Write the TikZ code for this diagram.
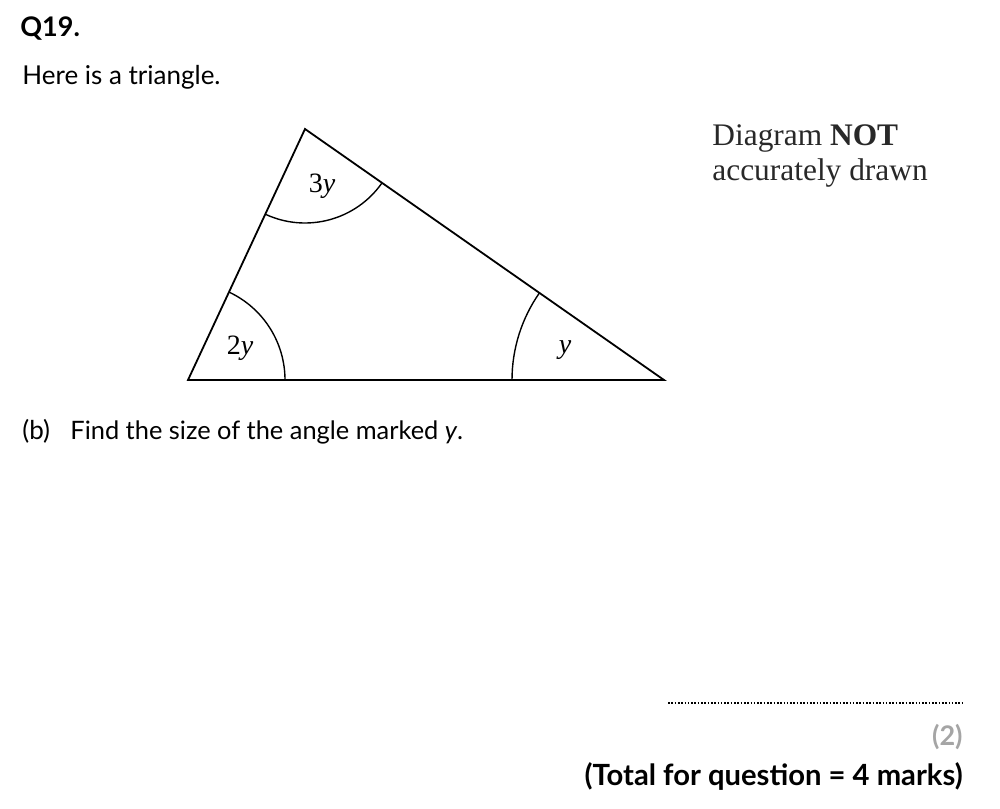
\documentclass[tikz,border=0pt]{standalone}
\usepackage{fontspec}
\setmainfont{Lato}
\newfontfamily\timesfont{Liberation Serif}
\usepackage{tikz}
\usetikzlibrary{calc}
\usetikzlibrary{quotes,angles}
\usetikzlibrary{positioning}
\definecolor{notegray}{RGB}{40,40,40}
\definecolor{markgray}{RGB}{165,165,165}

\begin{document}
\begin{tikzpicture}[
x=0.5pt, y=-0.5pt,
Sides/.style={draw=black,line width=0.9pt,line join=miter},
AngleArc/.style={draw=black,line width=0.7pt},
AngleLabel/.style={inner sep=0pt,font=\timesfont\fontsize{14}{16}\selectfont},
BodyText/.style={anchor=base west,inner sep=0pt,font=\fontsize{13}{16}\selectfont},
NoteText/.style={anchor=base west,inner sep=0pt,text=notegray,font=\timesfont\fontsize{15.7}{18}\selectfont},
MarkText/.style={anchor=base east,inner sep=0pt,font=\bfseries\fontsize{14.6}{17}\selectfont}
]
\useasboundingbox (0,0) rectangle (1000,808);

% header
\node[BodyText,font=\bfseries\fontsize{13.5}{16}\selectfont] (title) at (20,37) {Q19.};
\node[BodyText] (intro) at (22,84) {Here is a triangle.};

% the triangle
\coordinate (A) at (188,380);
\coordinate (B) at (305,129);
\coordinate (C) at (664,380);

\draw[Sides] (A)--(B)--(C)--cycle;

\pic[AngleArc, angle radius=48.5pt] {angle = C--A--B};
\pic[AngleArc, angle radius=47pt] {angle = A--B--C};
\pic[AngleArc, angle radius=76pt] {angle = B--C--A};

\node[AngleLabel] (angA) at (240,348) {2\textit{y}};
\node[AngleLabel] (angB) at (322,186) {3\textit{y}};
\node[AngleLabel] (angC) at (565,350) {\textit{y}};

\node[NoteText] (note1) at (712,145) {Diagram \textbf{NOT}};
\node[NoteText] (note2) at (712,180) {accurately drawn};

% question
\node[BodyText] (part) at (22,439) {(b)};
\node[BodyText,font=\fontsize{12.7}{16}\selectfont] (question) at (70,439) {Find the size of the angle marked \textit{y}.};

% answer line and marks
\coordinate (ansL) at (668,703);
\coordinate (ansR) at (963,703);
\draw[line width=1pt, dash pattern=on 0.8pt off 0.85pt] (ansL)--(ansR);

\node[MarkText,text=markgray,font=\bfseries\fontsize{13.5}{16}\selectfont] (marks) at (963,745) {(2)};
\node[MarkText] (total) at (963,785) {(Total for question = 4 marks)};

\end{tikzpicture}
\end{document}
